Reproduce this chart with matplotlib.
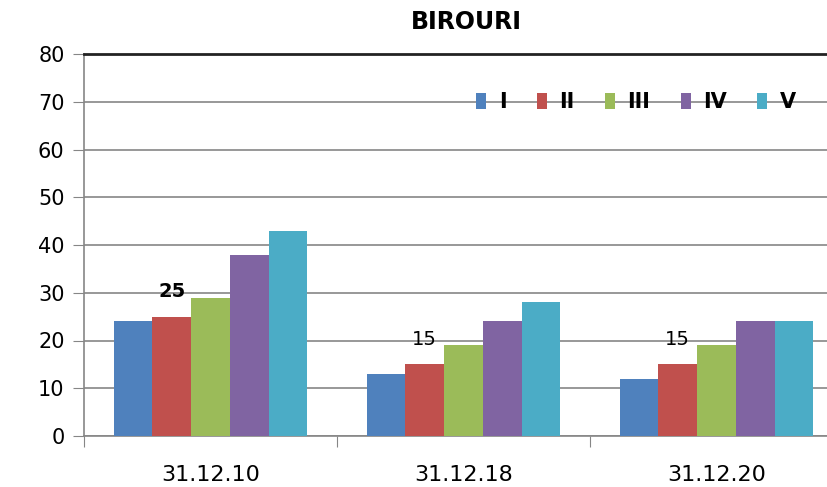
import numpy as np
import matplotlib
matplotlib.use('Agg')
import matplotlib.pyplot as plt

plt.rcParams['font.family'] = ['DejaVu Sans']

# date
categorii = ['31.12.10', '31.12.18', '31.12.20']
serii = ['I', 'II', 'III', 'IV', 'V']
valori_I = [24, 13, 12]
valori_II = [25, 15, 15]
valori_III = [29, 19, 19]
valori_IV = [38, 24, 24]
valori_V = [43, 28, 24]
etichete_II = ['25', '15', '15']

culori = ['#4F81BD', '#C0504D', '#9BBB59', '#8064A2', '#4BACC6']
toate = [valori_I, valori_II, valori_III, valori_IV, valori_V]

fig = plt.figure(figsize=(8.27, 4.87), dpi=100)
ax = fig.add_axes([84 / 827, 51 / 487, 759 / 827, 382 / 487])

x = np.arange(len(categorii))
latime = 0.153
for i, (nume, val) in enumerate(zip(serii, toate)):
    pozitii = x + (i - 2) * latime
    bare = ax.bar(pozitii, val, width=latime, color=culori[i], label=nume, zorder=3)
    if nume == 'II':
        # doar seria II are etichete
        for j, b in enumerate(bare):
            ax.text(b.get_x() + b.get_width() / 2, b.get_height() + 3.2, etichete_II[j],
                    ha='center', va='bottom', fontsize=14,
                    fontweight='bold' if j == 0 else 'normal')

ax.set_xlim(-0.5, 2.5)
ax.set_ylim(0, 80)
ax.set_yticks(range(0, 81, 10))
ax.set_xticks([-0.5, 0.5, 1.5, 2.5])
ax.set_xticklabels([])
ax.set_xticks(x, minor=True)
ax.set_xticklabels(categorii, minor=True, fontsize=16)
ax.tick_params(axis='x', which='minor', length=0, pad=21)
ax.tick_params(axis='x', which='major', length=8, color='#868686', direction='out')
ax.tick_params(axis='y', length=8, color='#868686', labelsize=15, pad=6)

ax.grid(axis='y', color='#868686', linewidth=1.2, zorder=0)
ax.spines['right'].set_visible(False)
ax.spines['top'].set_color('#222222')
ax.spines['top'].set_linewidth(2)
for s in ['left', 'bottom']:
    ax.spines[s].set_color('#868686')
    ax.spines[s].set_linewidth(1.2)

fig.text(466 / 827, 1 - 22 / 487, 'BIROURI', ha='center', va='center',
         fontsize=17, fontweight='bold')

leg = ax.legend(loc='center left', ncol=5, frameon=False,
                handlelength=0.48, handleheight=0.8, handletextpad=0.62,
                columnspacing=1.44, borderpad=0, borderaxespad=0,
                prop={'weight': 'bold', 'size': 15})
leg.set_bbox_to_anchor((476 / 827, 1 - 102 / 487), transform=fig.transFigure)

fig.savefig('out.png', dpi=100)
